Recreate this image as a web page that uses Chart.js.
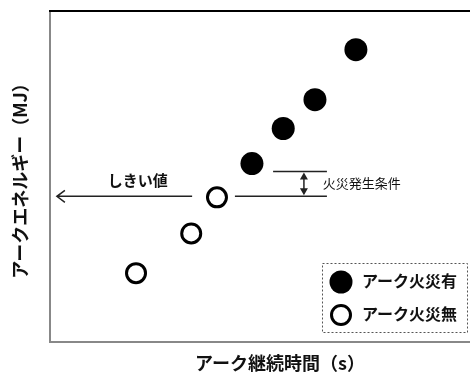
<!DOCTYPE html>
<html>
<head>
<meta charset="utf-8">
<script src="https://cdn.jsdelivr.net/npm/chart.js@4"></script>
<style>
  html, body { margin: 0; padding: 0; background: #fff; overflow: hidden; }
  #wrap { width: 470px; height: 374px; overflow: hidden; }
  canvas { display: block; }
</style>
</head>
<body>
<div id="wrap"><canvas id="c" width="510" height="374"></canvas></div>
<script>
// ---- data (arbitrary units) ----
const fireX   = [4.39, 5.07, 5.76, 6.65];
const fireY   = [5.39, 6.45, 7.32, 8.83];
const noFireX = [1.87, 3.07, 3.63];
const noFireY = [2.08, 3.28, 4.37];
const seriesLabels = ['アーク火災有', 'アーク火災無'];
const xTitle = 'アーク継続時間（s）';
const yTitle = 'アークエネルギー（MJ）';
const thresholdY = 4.40;       // しきい値
const conditionY = 5.15;       // 火災発生条件 upper line
const thresholdLabel = 'しきい値';
const conditionLabel = '火災発生条件';

const FONT = '"Noto Sans CJK JP", "Noto Sans", sans-serif';
Chart.defaults.font.family = FONT;

const annot = {
  id: 'annot',
  beforeDatasetsDraw(chart) {
    const ctx = chart.ctx, a = chart.chartArea;
    ctx.save();
    ctx.lineWidth = 2;
    ctx.strokeStyle = '#888';
    ctx.beginPath();
    ctx.moveTo(a.left, a.top); ctx.lineTo(a.left, a.bottom); ctx.lineTo(a.right, a.bottom);
    ctx.stroke();
    ctx.strokeStyle = '#000';
    ctx.beginPath();
    ctx.moveTo(a.left - 1, a.top); ctx.lineTo(a.right, a.top);
    ctx.stroke();
    ctx.restore();
  },
  afterDatasetsDraw(chart) {
    const ctx = chart.ctx;
    const xs = chart.scales.x, ys = chart.scales.y;
    const px = v => xs.getPixelForValue(v);
    const py = v => ys.getPixelForValue(v);
    ctx.save();
    ctx.strokeStyle = '#222';
    ctx.fillStyle = '#222';
    ctx.lineWidth = 1.5;
    const yT = py(thresholdY), yC = py(conditionY);
    // threshold arrow to the left
    const xa0 = px(0.15), xa1 = px(3.09);
    ctx.beginPath();
    ctx.moveTo(xa1, yT); ctx.lineTo(xa0, yT);
    ctx.moveTo(xa0 + 8, yT - 6); ctx.lineTo(xa0, yT); ctx.lineTo(xa0 + 8, yT + 6);
    ctx.stroke();
    // right side lines
    const xr1 = px(6.02);
    ctx.beginPath();
    ctx.moveTo(px(4.02), yT); ctx.lineTo(xr1, yT);
    ctx.moveTo(px(4.85), yC); ctx.lineTo(xr1, yC);
    ctx.stroke();
    // double arrow
    const xd = px(5.52);
    ctx.beginPath();
    ctx.moveTo(xd, yC + 4); ctx.lineTo(xd, yT - 4);
    ctx.stroke();
    ctx.beginPath();
    ctx.moveTo(xd, yC + 1); ctx.lineTo(xd - 4, yC + 8); ctx.lineTo(xd + 4, yC + 8); ctx.closePath();
    ctx.moveTo(xd, yT - 1); ctx.lineTo(xd - 4, yT - 8); ctx.lineTo(xd + 4, yT - 8); ctx.closePath();
    ctx.fill();
    // labels
    ctx.fillStyle = '#111';
    ctx.textBaseline = 'middle';
    ctx.textAlign = 'center';
    ctx.font = 'bold 15px ' + FONT;
    ctx.fillText(thresholdLabel, px(1.91), py(4.88));
    ctx.textAlign = 'left';
    ctx.font = '13px ' + FONT;
    ctx.fillText(conditionLabel, px(5.93), py(4.79));

    // legend box (custom, inside plot)
    ctx.setLineDash([2, 2]);
    ctx.lineWidth = 1;
    ctx.strokeStyle = '#555';
    ctx.strokeRect(322.5, 263.5, 145, 69);
    ctx.setLineDash([]);
    const items = chart.data.datasets;
    const rows = [282, 315];
    items.forEach((ds, i) => {
      const cy = rows[i];
      ctx.beginPath();
      ctx.arc(341, cy, ds.pointRadius, 0, Math.PI * 2);
      ctx.fillStyle = ds.pointBackgroundColor;
      ctx.fill();
      if (ds.pointBorderWidth > 0) {
        ctx.lineWidth = ds.pointBorderWidth;
        ctx.strokeStyle = ds.pointBorderColor;
        ctx.stroke();
      }
      ctx.fillStyle = '#111';
      ctx.font = 'bold 16px ' + FONT;
      ctx.textAlign = 'left';
      ctx.textBaseline = 'middle';
      ctx.fillText(ds.label, 362, cy - 1);
    });
    ctx.restore();
  }
};

new Chart(document.getElementById('c'), {
  type: 'scatter',
  data: {
    datasets: [
      {
        label: seriesLabels[0],
        data: fireX.map((x, i) => ({ x, y: fireY[i] })),
        pointRadius: 11.5,
        pointBackgroundColor: '#000',
        pointBorderColor: '#000',
        pointBorderWidth: 0,
        clip: false
      },
      {
        label: seriesLabels[1],
        data: noFireX.map((x, i) => ({ x, y: noFireY[i] })),
        pointRadius: 9.5,
        pointBackgroundColor: '#fff',
        pointBorderColor: '#000',
        pointBorderWidth: 3,
        clip: false
      }
    ]
  },
  options: {
    responsive: false,
    animation: false,
    events: [],
    layout: { autoPadding: false, padding: { left: 0, top: 11, right: 0, bottom: 0 } },
    plugins: { legend: { display: false }, tooltip: { enabled: false } },
    scales: {
      x: {
        type: 'linear', min: 0, max: 10,
        ticks: { display: false },
        grid: { display: false, drawTicks: false },
        border: { display: false },
        title: {
          display: true, text: xTitle, color: '#111',
          font: { size: 18, weight: 'bold' },
          padding: { top: 10.4, bottom: 0 }
        }
      },
      y: {
        type: 'linear', min: 0, max: 10,
        ticks: { display: false },
        grid: { display: false, drawTicks: false },
        border: { display: false },
        title: {
          display: true, text: yTitle, color: '#111',
          font: { size: 18, weight: 'bold' },
          padding: { top: 9, bottom: 19.4 }
        }
      }
    }
  },
  plugins: [annot]
});
</script>
</body>
</html>
